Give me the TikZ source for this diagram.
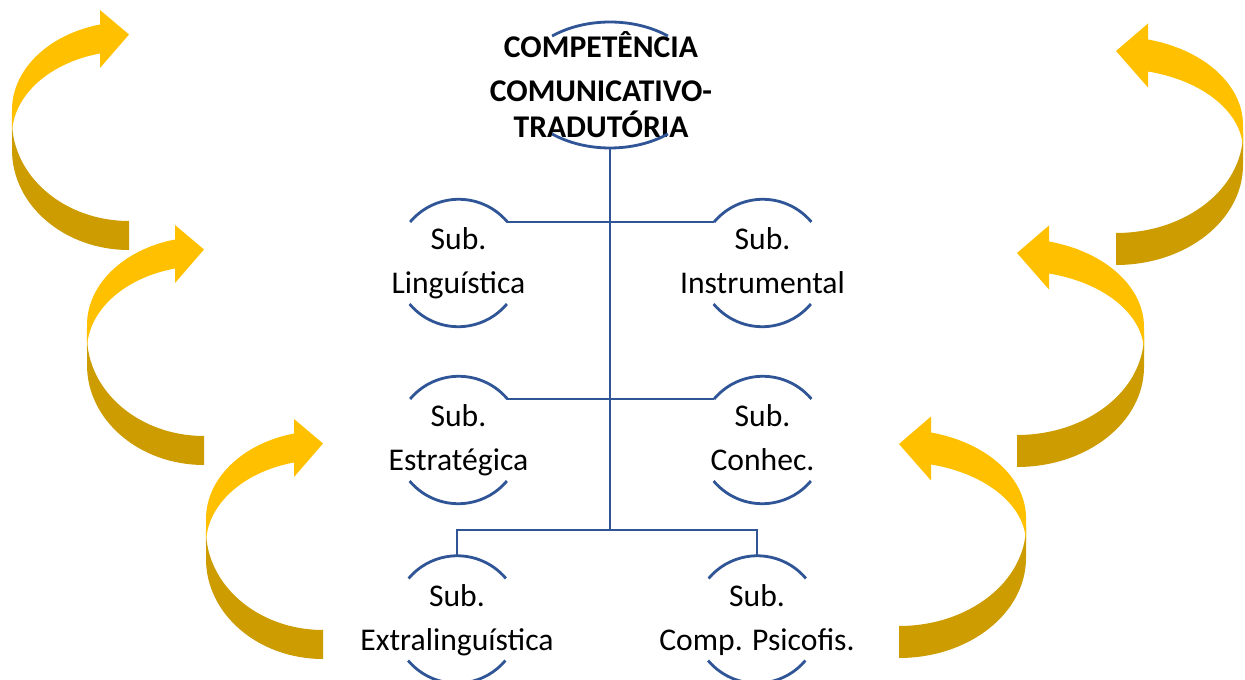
\documentclass[tikz,border=0pt]{standalone}
\usepackage{fontspec}
\setmainfont{Carlito}
\usetikzlibrary{shapes.geometric}
\definecolor{lineblue}{RGB}{47,85,151}
\definecolor{ylight}{RGB}{255,192,0}
\definecolor{ydark}{RGB}{204,156,0}
% curved arrow in local coordinates: #1 width, #2 thickness, #3 end angle, #4 upper radius, #5 lower radius
\newcommand\yarrow[5]{%
  \fill[ydark] (-#1,-15) arc[start angle=180, end angle=270, x radius=#1, y radius=100]
    -- (0,{-115+#2}) arc[start angle=270, end angle=180, x radius=#1, y radius=100] -- cycle;
  \fill[ylight] (-#1,25) arc[start angle=180, end angle=#3, x radius=#1, y radius=#4]
    -- (-#2,{110.5+#2/2}) -- (0,{110.5-#2/2+4.5}) -- (-#2,{110.5-1.5*#2}) -- (-#2,{110.5-#2})
    arc[start angle=#3, end angle=180, x radius=#1, y radius=#5] -- cycle;
}
\begin{document}
\begin{tikzpicture}[x=0.02cm, y=0.02cm,
  conn/.style={draw=lineblue, line width=1.6pt},
  circ/.style={circle, minimum size=2.54cm, inner sep=0pt},
  txt/.style={align=center, text=black, font=\fontsize{18pt}{25pt}\selectfont},
  ttl/.style={align=center, text=black, font=\bfseries\fontsize{18pt}{25pt}\selectfont}]
\useasboundingbox (0,0) rectangle (1245,680);
\clip (0,0) rectangle (1245,680);

% curved arrows, left side (pointing right)
\begin{scope}[shift={(129,545)}]\yarrow{117}{29}{104.35}{88.25}{84.12}\end{scope}
\begin{scope}[shift={(204,330)}]\yarrow{117}{29}{104.35}{88.25}{84.12}\end{scope}
\begin{scope}[shift={(323,136)}]\yarrow{117}{29}{104.35}{88.25}{84.12}\end{scope}
% curved arrows, right side (pointing left)
\begin{scope}[shift={(1116,530)}, xscale=-1]\yarrow{127}{32}{104.6}{88.35}{81.12}\end{scope}
\begin{scope}[shift={(1017,328)}, xscale=-1]\yarrow{127}{32}{104.6}{88.35}{81.12}\end{scope}
\begin{scope}[shift={(899,137)}, xscale=-1]\yarrow{127}{32}{104.6}{88.35}{81.12}\end{scope}

% nodes
\node[ellipse, minimum width=3.68cm, minimum height=2.52cm, inner sep=0pt,
  label={[ttl, xshift=-0.18cm, yshift=-0.08cm]center:{\strut COMPETÊNCIA\\\strut COMUNICATIVO-\\[-4.5pt]\strut TRADUTÓRIA}}] (top) at (610,595) {};
\node[circ, label={[txt]center:{\strut Sub.\\\strut Linguística}}] (lin) at (458.5,417) {};
\node[circ, label={[txt]center:{\strut Sub.\\\strut Instrumental}}] (ins) at (762.5,417) {};
\node[circ, label={[txt]center:{\strut Sub.\\\strut Estratégica}}] (est) at (458.5,240) {};
\node[circ, label={[txt]center:{\strut Sub.\\\strut Conhec.}}] (con) at (762.5,240) {};
\node[circ, label={[txt]center:{\strut Sub.\\\strut Extralinguística}}] (ext) at (457,60.5) {};
\node[circ, label={[txt]center:{\strut Sub.\\\strut Comp. Psicofis.}}] (psi) at (757,60.5) {};
\coordinate (j3) at (610,150);

% partial outlines
\draw[conn] (top.center) ++(51:92 and 63) arc[start angle=51, end angle=129, x radius=92, y radius=63];
\draw[conn] (top.center) ++(231:92 and 63) arc[start angle=231, end angle=309, x radius=92, y radius=63];
\foreach \n in {lin,ins,est,con,ext,psi}{
  \draw[conn] (\n.40) arc[start angle=40, end angle=140, radius=63.5];
  \draw[conn] (\n.220) arc[start angle=220, end angle=320, radius=63.5];
}

% connectors
\draw[conn] (top.south) -- (j3);
\draw[conn] (lin.40) -- (ins.140);
\draw[conn] (est.40) -- (con.140);
\draw[conn] (ext.north) |- (j3) -| (psi.north);
\end{tikzpicture}
\end{document}
